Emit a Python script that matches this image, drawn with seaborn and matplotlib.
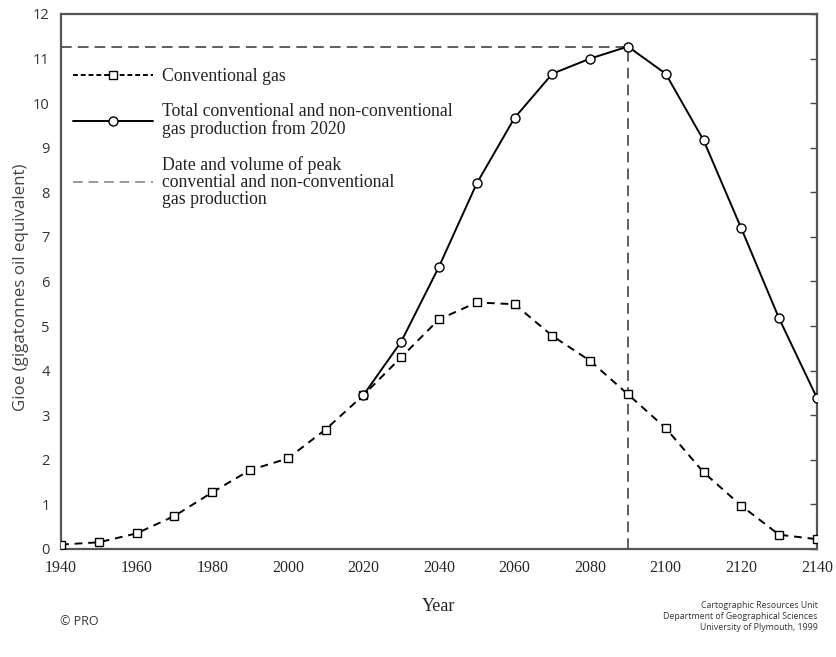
import matplotlib
matplotlib.use("Agg")
import matplotlib.pyplot as plt
import matplotlib.lines as mlines
import seaborn as sns
import numpy as np
from matplotlib.lines import Line2D

# Gas production, gigatonnes oil equivalent
years = [1940, 1950, 1960, 1970, 1980, 1990, 2000, 2010, 2020, 2030, 2040,
         2050, 2060, 2070, 2080, 2090, 2100, 2110, 2120, 2130, 2140]
conventional = [0.10, 0.15, 0.35, 0.74, 1.27, 1.77, 2.03, 2.68, 3.45, 4.30, 5.15,
                5.53, 5.49, 4.78, 4.22, 3.47, 2.71, 1.72, 0.97, 0.32, 0.22]

total_years = [2020, 2030, 2040, 2050, 2060, 2070, 2080, 2090, 2100, 2110,
               2120, 2130, 2140]
total = [3.45, 4.65, 6.33, 8.20, 9.67, 10.66, 11.00, 11.27, 10.66, 9.17,
         7.19, 5.17, 3.39]

x_ticks = list(range(1940, 2141, 20))
y_ticks = list(range(0, 13))

sns.set_style("white")
serif = ["Liberation Serif", "DejaVu Serif"]
sans = ["Open Sans", "DejaVu Sans"]

fig = plt.figure(figsize=(8.37, 6.57), dpi=100)
ax = fig.add_axes([0.0729, 0.1644, 0.9031, 0.8143])

sns.lineplot(x=years, y=conventional, ax=ax, color="black", linewidth=1.4,
             linestyle=(0, (4, 3)), marker="s", markersize=6,
             markerfacecolor="white", markeredgecolor="black",
             markeredgewidth=1.0, zorder=3)
sns.lineplot(x=total_years, y=total, ax=ax, color="black", linewidth=1.4,
             marker="o", markersize=6.5, markerfacecolor="white",
             markeredgecolor="black", markeredgewidth=1.0, zorder=4)

# Peak of total production
i_peak = int(np.argmax(total))
peak_year, peak_val = total_years[i_peak], total[i_peak]
ref_style = dict(color="#333333", linewidth=1.1, linestyle=(0, (7, 4)), zorder=2)
ax.plot([years[0], peak_year], [peak_val, peak_val], **ref_style)
ax.plot([peak_year, peak_year], [0, peak_val], **ref_style)

ax.set_xlim(1940, 2140)
ax.set_ylim(0, 12)
ax.set_xticks(range(1940, 2141, 10))
ax.set_xticklabels([str(t) if t in x_ticks else "" for t in range(1940, 2141, 10)],
                   family=serif, fontsize=11.5)
ax.set_yticks(y_ticks)
ax.set_yticklabels([str(t) for t in y_ticks], family=sans, fontsize=10.5,
                   color="#333333")
ax.tick_params(axis="x", direction="out", length=4, width=1, color="#444444", pad=4)
ax.tick_params(axis="y", direction="out", length=4, width=1, color="#444444",
               pad=4, right=True, labelright=False)
# right-side ticks point inward
for tick in ax.yaxis.get_major_ticks():
    tick.tick2line.set_marker(mlines.TICKLEFT)
    tick.tick2line.set_markersize(5)

for s in ax.spines.values():
    s.set_color("#555555")
    s.set_linewidth(1.6)

ax.set_xlabel("Year", family=serif, fontsize=13, labelpad=16)
ax.set_ylabel("Gioe (gigatonnes oil equivalent)", family=sans, fontsize=12.2,
              color="#444444")
ax.yaxis.set_label_coords(-0.042, 0.49)

handles = [
    Line2D([], [], color="black", linewidth=1.4, linestyle=(0, (2.5, 1.5)),
           marker="s", markersize=6, markerfacecolor="white", markeredgecolor="black"),
    Line2D([], [], color="black", linewidth=1.4, marker="o", markersize=6.5,
           markerfacecolor="white", markeredgecolor="black"),
    Line2D([], [], color="#999999", linewidth=1.4, linestyle=(0, (5, 3))),
]
labels = [
    "Conventional gas",
    "Total conventional and non-conventional\ngas production from 2020",
    "Date and volume of peak\nconvential and non-conventional\ngas production",
]
leg = ax.legend(handles, labels, loc="upper left", bbox_to_anchor=(0.0, 0.922),
                frameon=False, handlelength=4.5, handletextpad=0.5,
                labelspacing=1.0, prop={"family": serif, "size": 12.8},
                borderaxespad=0.3)
for txt in leg.get_texts():
    txt.set_color("#222222")
    txt.set_linespacing(1.02)

fig.text(0.072, 0.054, "\u00a9 PRO", family=sans, fontsize=9, color="#333333",
         va="center")
fig.text(0.977, 0.062, "Cartographic Resources Unit\nDepartment of Geographical Sciences\n"
         "University of Plymouth, 1999", family=sans, fontsize=6.3, color="#333333",
         ha="right", va="center", linespacing=1.3)

fig.savefig("out.png", dpi=100, facecolor="white")
